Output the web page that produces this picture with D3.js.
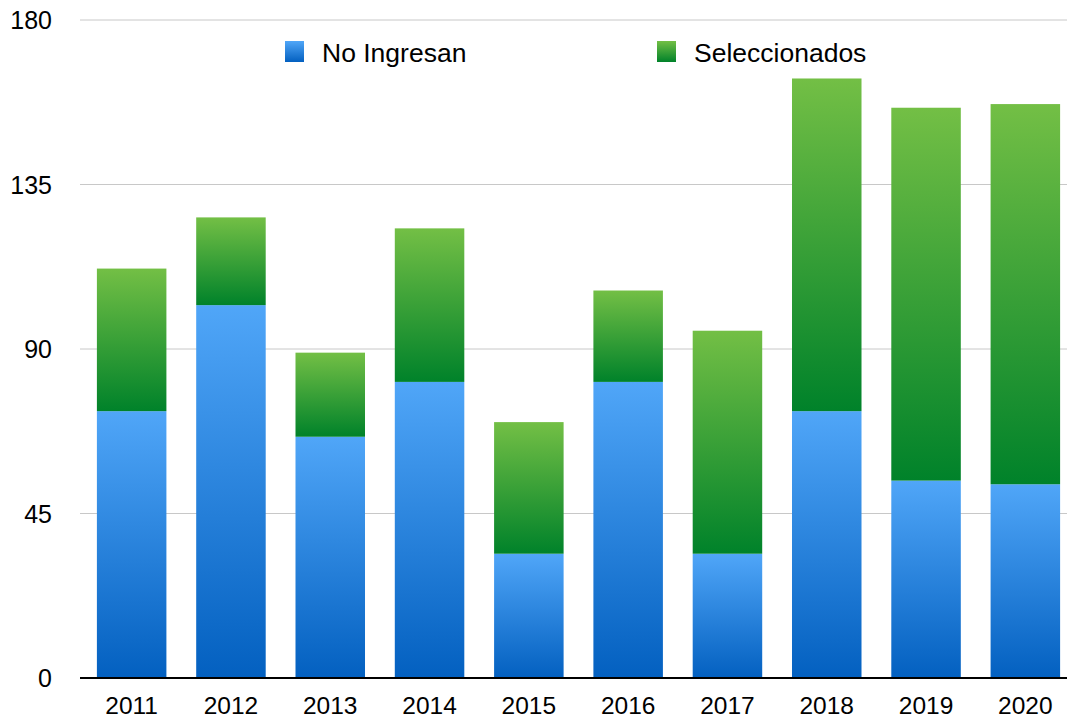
<!DOCTYPE html>
<html>
<head>
<meta charset="utf-8">
<script src="https://cdn.jsdelivr.net/npm/d3@7"></script>
<style>
  body { margin: 0; background: #fff; }
  text { font-family: "Liberation Sans", Arial, sans-serif; fill: #000; }
</style>
</head>
<body>
<div id="chart"></div>
<script>
var years = ["2011","2012","2013","2014","2015","2016","2017","2018","2019","2020"];
var noIngresan = [73, 102, 66, 81, 34, 81, 34, 73, 54, 53];
var seleccionados = [39, 24, 23, 42, 36, 25, 61, 91, 102, 104];
var yTicks = [0, 45, 90, 135, 180];
var seriesNames = ["No Ingresan", "Seleccionados"];

var W = 1067, H = 718;
var svg = d3.select("#chart").append("svg").attr("width", W).attr("height", H);

var defs = svg.append("defs");
var gBlue = defs.append("linearGradient").attr("id", "gBlue").attr("x1", 0).attr("y1", 0).attr("x2", 0).attr("y2", 1);
gBlue.append("stop").attr("offset", "0%").attr("stop-color", "#50a6f8");
gBlue.append("stop").attr("offset", "100%").attr("stop-color", "#0360c0");
var gGreen = defs.append("linearGradient").attr("id", "gGreen").attr("x1", 0).attr("y1", 0).attr("x2", 0).attr("y2", 1);
gGreen.append("stop").attr("offset", "0%").attr("stop-color", "#73bf45");
gGreen.append("stop").attr("offset", "100%").attr("stop-color", "#00822a");

var x = d3.scaleBand().domain(years).range([82, 1075]).paddingInner(0.3).paddingOuter(0.15);
var y = d3.scaleLinear().domain([0, 180]).range([678, 20]);

// grid lines
svg.append("g").selectAll("line").data(yTicks.slice(1)).enter()
  .append("line")
  .attr("x1", 80).attr("x2", W)
  .attr("y1", function(d){ return y(d); }).attr("y2", function(d){ return y(d); })
  .attr("stroke", "#c8c8c8").attr("stroke-width", 1);

// y labels
svg.append("g").selectAll("text").data(yTicks).enter()
  .append("text")
  .attr("x", 52).attr("y", function(d){ return y(d); })
  .attr("dy", "0.36em")
  .attr("text-anchor", "end")
  .style("font-size", "25px")
  .text(function(d){ return d; });

// bars
var rows = years.map(function(yr, i){ return {year: yr, a: noIngresan[i], b: seleccionados[i]}; });

svg.append("g").selectAll("rect").data(rows).enter()
  .append("rect")
  .attr("x", function(d){ return x(d.year); })
  .attr("width", x.bandwidth())
  .attr("y", function(d){ return y(d.a); })
  .attr("height", function(d){ return y(0) - y(d.a); })
  .attr("fill", "url(#gBlue)");

svg.append("g").selectAll("rect").data(rows).enter()
  .append("rect")
  .attr("x", function(d){ return x(d.year); })
  .attr("width", x.bandwidth())
  .attr("y", function(d){ return y(d.a + d.b); })
  .attr("height", function(d){ return y(d.a) - y(d.a + d.b); })
  .attr("fill", "url(#gGreen)");

// baseline
svg.append("line").attr("x1", 80).attr("x2", W).attr("y1", y(0)).attr("y2", y(0))
  .attr("stroke", "#000").attr("stroke-width", 2);

// x labels
svg.append("g").selectAll("text").data(years).enter()
  .append("text")
  .attr("x", function(d){ return x(d) + x.bandwidth() / 2; })
  .attr("y", 714)
  .attr("text-anchor", "middle")
  .style("font-size", "24.5px")
  .text(function(d){ return d; });

// legend
var legX = [285, 657];
var legFill = ["url(#gBlue)", "url(#gGreen)"];
var leg = svg.append("g").selectAll("g").data(seriesNames).enter().append("g");
leg.append("rect")
  .attr("x", function(d, i){ return legX[i]; })
  .attr("y", 41).attr("width", 19).attr("height", 21)
  .attr("fill", function(d, i){ return legFill[i]; });
leg.append("text")
  .attr("x", function(d, i){ return legX[i] + 37; })
  .attr("y", 62)
  .style("font-size", "26.5px")
  .text(function(d){ return d; });
</script>
</body>
</html>
